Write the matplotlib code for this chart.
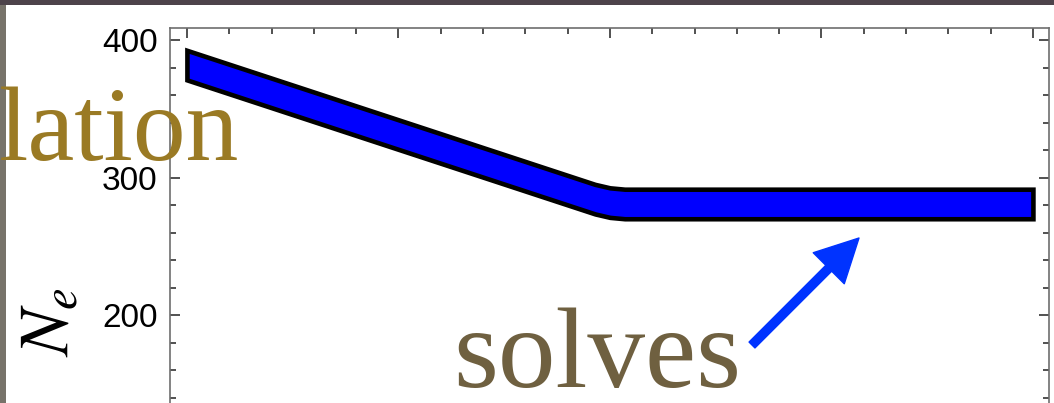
import matplotlib.pyplot as plt
from matplotlib.patches import Rectangle
from matplotlib.ticker import MultipleLocator

plt.rcParams["font.family"] = ["Liberation Sans", "DejaVu Sans"]
plt.rcParams["mathtext.fontset"] = "stix"

# electron number band vs. x: falls linearly, then levels off at x = 20
x = [0, 19.3, 20, 20.7, 40]
ne_low = [371, 273.5, 271, 270, 270]
ne_high = [392.5, 295, 292.5, 291.5, 291.5]

yticks = [200, 300, 400]

W, H = 1054, 403
fig = plt.figure(figsize=(W / 100, H / 100), dpi=100)
fig.patch.set_facecolor("#77736a")

# slide background strips and white panel
fig.patches.append(Rectangle((0, 1 - 5 / H), 1, 5 / H, transform=fig.transFigure,
                             facecolor="#4d434a", edgecolor="none", zorder=-2))
fig.patches.append(Rectangle((6 / W, 0), 1, 1 - 5 / H, transform=fig.transFigure,
                             facecolor="white", edgecolor="none", zorder=-1))

# axes frame in pixels: left 170, right 1049, top 28, bottom runs off the page
left, right, top, bottom = 170, 1049, 28, 452.5
ax = fig.add_axes([left / W, (H - bottom) / H, (right - left) / W, (bottom - top) / H])

ax.fill_between(x, ne_low, ne_high, facecolor="#0000ff", edgecolor="black",
                linewidth=3.3, joinstyle="miter")

ax.set_xlim(-0.8, 40.76)
ax.set_ylim(100, 408.73)
ax.xaxis.set_major_locator(MultipleLocator(10))
ax.xaxis.set_minor_locator(MultipleLocator(2))
ax.set_yticks(yticks)
ax.yaxis.set_minor_locator(MultipleLocator(20))
ax.set_xticklabels([])

for s in ax.spines.values():
    s.set_color("#6e6e6e")
    s.set_linewidth(1.2)

ax.tick_params(which="both", direction="in", top=True, right=True,
               color="#222222", width=1.1)
ax.tick_params(which="major", length=7.5)
ax.tick_params(which="minor", length=4.5)
ax.tick_params(axis="y", labelsize=24, pad=9)

fig.text(50 / W, 1 - 322 / H, r"$N_e$", rotation=90, ha="center", va="center",
         fontsize=50)

# overlaid slide words
fig.text(239 / W, 1 - 160 / H, "lation", ha="right", va="baseline",
         fontsize=76, family="Liberation Serif", color="#9a7a24")
fig.text(453 / W, 1 - 387 / H, "solves", ha="left", va="baseline",
         fontsize=83, family="Liberation Serif", color="#6f6040")

ax.annotate("", xy=(859, H - 238), xytext=(752, H - 345),
            xycoords="figure pixels", textcoords="figure pixels",
            arrowprops=dict(arrowstyle="simple,head_length=0.77,head_width=0.79,tail_width=0.15",
                            color="#0033ff", shrinkA=0, shrinkB=0, mutation_scale=40))

fig.savefig("out.png", dpi=100, facecolor=fig.get_facecolor())
